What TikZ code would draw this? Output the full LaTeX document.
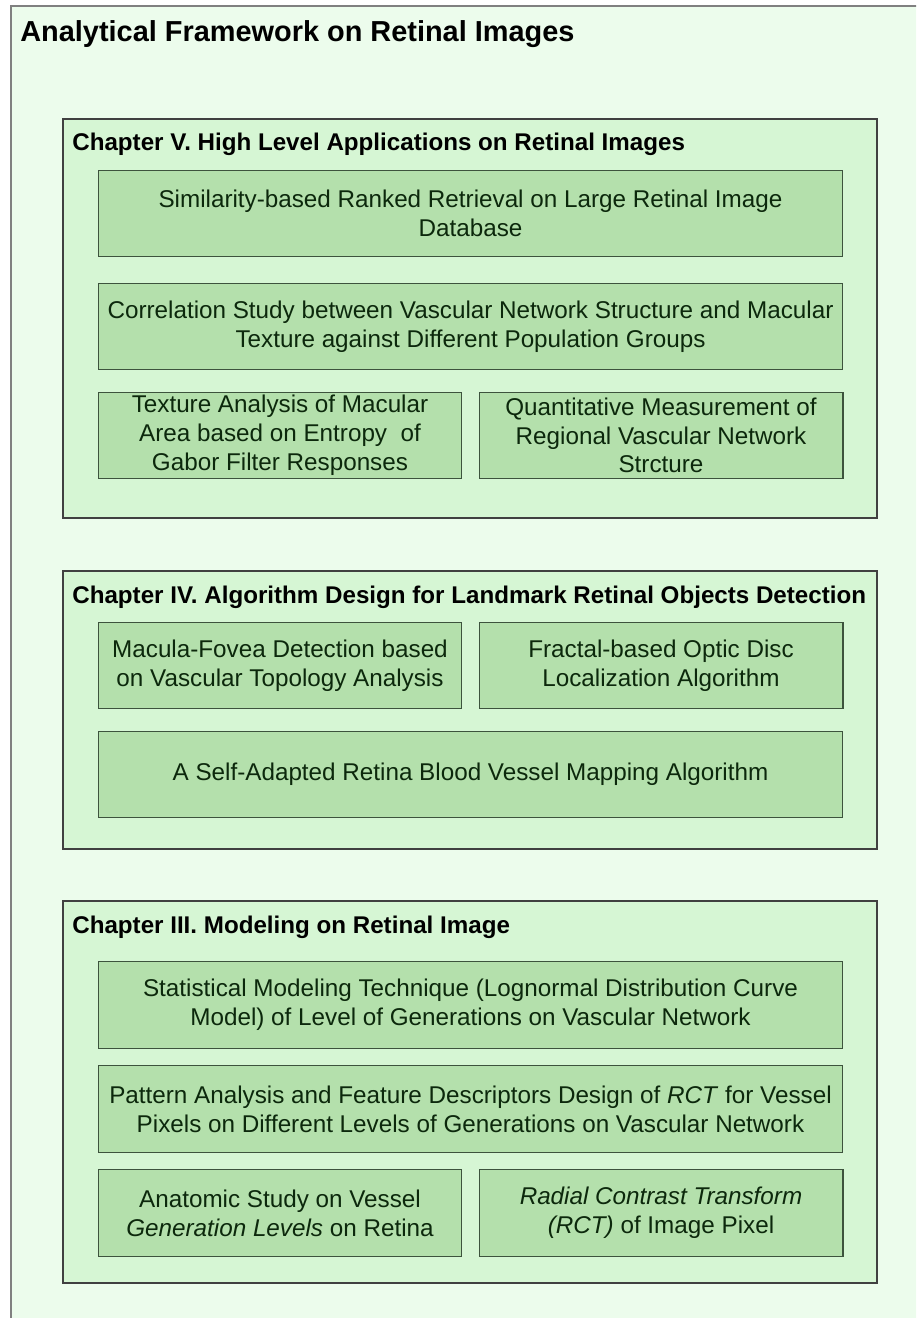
\documentclass[tikz,border=0pt]{standalone}
\usepackage{fontspec}
\setmainfont{Liberation Sans}
\usetikzlibrary{positioning}
\definecolor{bgGreen}{RGB}{236,252,236}
\definecolor{chapGreen}{RGB}{214,246,212}
\definecolor{boxGreen}{RGB}{180,224,172}
\definecolor{boxText}{RGB}{12,40,12}

\begin{document}
\begin{tikzpicture}
[x=0.02cm, y=-0.02cm,
Tag/.style={anchor=base west, inner sep=0pt, font=\fontsize{13.75}{16}\selectfont\bfseries},
Chapter/.style={draw=black!75, line width=0.8pt, fill=chapGreen},
WideNode/.style={rectangle, draw=boxText!80, fill=boxGreen, line width=0.6pt, inner sep=1pt, minimum width=14.9cm, minimum height=1.73cm, align=center, text=boxText, font=\fontsize{13.8}{16.4}\selectfont},
HalfNode/.style={rectangle, draw=boxText!80, fill=boxGreen, line width=0.6pt, inner sep=1pt, minimum width=7.28cm, minimum height=1.73cm, align=center, text=boxText, font=\fontsize{13.8}{16.4}\selectfont}]

\useasboundingbox (0,0) rectangle (916,1318);
\clip (0,0) rectangle (916,1318);

% outer frame
\draw[draw=black!50, line width=1.2pt, fill=bgGreen] (11,6) rectangle (940,1340);
\node[Tag, font=\fontsize{16.45}{19}\selectfont\bfseries] (title) at (20,42) {Analytical Framework on Retinal Images};

% Chapter V
\draw[Chapter] (63,119) rectangle (877,518);
\node[Tag] (t5) at (72,151) {Chapter V. High Level Applications on Retinal Images};
\node[WideNode] (n1) at (470.5,213.5) {Similarity-based Ranked Retrieval on Large Retinal Image\\Database};
\node[WideNode] (n2) at (470.5,326.5) {Correlation Study between Vascular Network Structure and Macular\\Texture against Different Population Groups};
\node[HalfNode] (n3) at (280,435.5) {Texture Analysis of Macular\\Area based on Entropy \ of\\Gabor Filter Responses};
\node[HalfNode] (n4) at (661,435.5) {Quantitative Measurement of\\Regional Vascular Network\\Strcture};

% Chapter IV
\draw[Chapter] (63,571) rectangle (877,849);
\node[Tag] (t4) at (72,603) {Chapter IV. Algorithm Design for Landmark Retinal Objects Detection};
\node[HalfNode] (n5) at (280,665.5) {Macula-Fovea Detection based\\on Vascular Topology Analysis};
\node[HalfNode] (n6) at (661,665.5) {Fractal-based Optic Disc\\Localization Algorithm};
\node[WideNode] (n7) at (470.5,774.5) {A Self-Adapted Retina Blood Vessel Mapping Algorithm};

% Chapter III
\draw[Chapter] (63,901) rectangle (877,1283);
\node[Tag] (t3) at (72,933) {Chapter III. Modeling on Retinal Image};
\node[WideNode] (n8) at (470.5,1005) {Statistical Modeling Technique (Lognormal Distribution Curve\\Model) of Level of Generations on Vascular Network};
\node[WideNode] (n9) at (470.5,1109) {Pattern Analysis and Feature Descriptors Design of \textit{RCT} for Vessel\\Pixels on Different Levels of Generations on Vascular Network};
\node[HalfNode] (n10) at (280,1213) {Anatomic Study on Vessel\\\textit{Generation Levels} on Retina};
\node[HalfNode] (n11) at (661,1213) {\textit{Radial Contrast Transform}\\\textit{(RCT)} of Image Pixel};

\end{tikzpicture}
\end{document}
